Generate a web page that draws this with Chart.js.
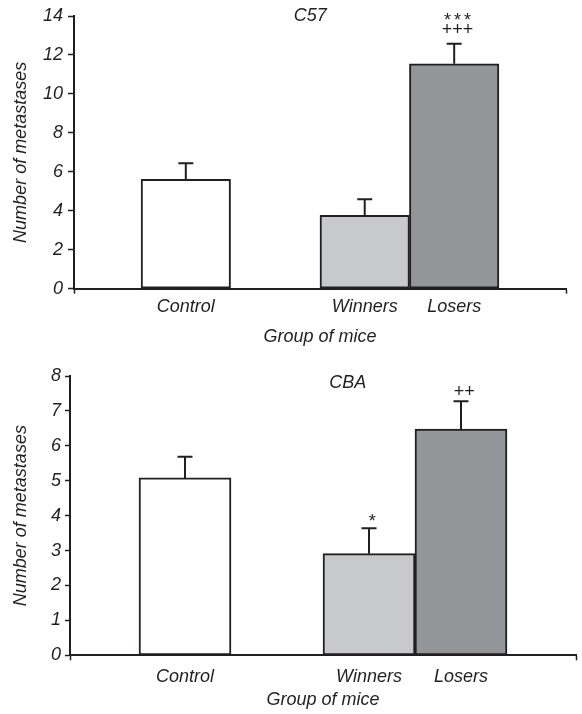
<!DOCTYPE html>
<html><head><meta charset="utf-8">
<script src="https://cdn.jsdelivr.net/npm/chart.js@4"></script>
<style>
html,body{margin:0;padding:0;background:#fff;}
.wrap{width:582px;height:357px;position:relative;}
canvas{display:block;}
</style></head>
<body>
<div class="wrap"><canvas id="c1" width="582" height="357"></canvas></div>
<div class="wrap"><canvas id="c2" width="582" height="357"></canvas></div>
<script>
// ---- data ----
const categories = ['Control', 'Winners', 'Losers'];
const c57Means  = [5.62, 3.77, 11.55];
const c57Errors = [0.82, 0.82, 1.03];
const c57Stars  = ['', '', '***'];
const c57Plus   = ['', '', '+++'];
const c57Ticks  = [0, 2, 4, 6, 8, 10, 12, 14];
const cbaMeans  = [5.08, 2.91, 6.48];
const cbaErrors = [0.61, 0.73, 0.80];
const cbaStars  = ['', '*', ''];
const cbaPlus   = ['', '', '++'];
const cbaTicks  = [0, 1, 2, 3, 4, 5, 6, 7, 8];
const xLabel = 'Group of mice';
const yLabel = 'Number of metastases';

// ---- layout / style ----
const SLOTS = [1.25, 3.25, 4.25];   // category slots on the x scale
const AXIS_END = 5.5;
const INK = '#231f20';
const BAR_COLORS = ['#ffffff', '#c8c9cb', '#939598'];
const FONT = {family: '"Liberation Sans", Arial, sans-serif', size: 18, style: 'italic'};
const FONT_CSS = 'italic 18px "Liberation Sans", Arial, sans-serif';

const errBars = {
  id: 'errbars',
  afterDatasetsDraw(chart, args, opts) {
    const ctx = chart.ctx;
    const ys = chart.scales.y;
    const meta = chart.getDatasetMeta(0);
    const ds = chart.data.datasets[0];
    ctx.save();
    ctx.strokeStyle = INK;
    ctx.fillStyle = INK;
    ctx.lineWidth = 2;
    ctx.font = FONT_CSS;
    ctx.textAlign = 'center';
    ctx.textBaseline = 'alphabetic';
    meta.data.forEach((el, i) => {
      const v = ds.data[i].y;
      const top = ys.getPixelForValue(v + ds.errors[i]);
      const x = el.x;
      ctx.beginPath();
      ctx.moveTo(x, el.y); ctx.lineTo(x, top);
      ctx.moveTo(x - opts.cap / 2, top); ctx.lineTo(x + opts.cap / 2, top);
      ctx.stroke();
      if (ds.plus[i]) ctx.fillText(ds.plus[i], x + 3, top - opts.plusGap);
      if (ds.stars[i]) {
        if ('letterSpacing' in ctx) ctx.letterSpacing = '3px';
        ctx.fillText(ds.stars[i], x + 4, top - opts.starGap);
        if ('letterSpacing' in ctx) ctx.letterSpacing = '0px';
      }
    });
    const ca = chart.chartArea;
    ctx.textBaseline = 'middle';
    ctx.fillText(opts.title, ca.left + opts.titleX * (ca.right - ca.left), ca.top + opts.titleDy);
    ctx.restore();
  }
};

function makeChart(id, means, errors, stars, plus, yTicks, cfg) {
  return new Chart(document.getElementById(id), {
    type: 'bar',
    data: {
      datasets: [{
        data: means.map((m, i) => ({x: SLOTS[i], y: m})),
        errors: errors, stars: stars, plus: plus,
        backgroundColor: BAR_COLORS,
        borderColor: INK,
        borderWidth: 2,
        borderSkipped: false,
        barPercentage: 1,
        categoryPercentage: 1
      }]
    },
    options: {
      responsive: false,
      animation: false,
      layout: {padding: {top: cfg.padTop, right: cfg.padRight, left: 0, bottom: 0}},
      plugins: {
        legend: {display: false},
        tooltip: {enabled: false},
        errbars: {cap: 15, plusGap: cfg.plusGap, starGap: cfg.starGap, title: cfg.title, titleX: cfg.titleX, titleDy: cfg.titleDy}
      },
      scales: {
        x: {
          type: 'linear', min: 0, max: AXIS_END, offset: false,
          afterBuildTicks: s => { s.ticks = [0, ...SLOTS, AXIS_END].map(v => ({value: v})); },
          grid: {display: true, offset: false, drawOnChartArea: false, drawTicks: true, tickLength: 5, tickWidth: 1.5,
            tickColor: c => (c.tick && (c.tick.value === 0 || c.tick.value === AXIS_END)) ? INK : 'rgba(0,0,0,0)'},
          border: {display: true, color: INK, width: 2},
          ticks: {autoSkip: false, maxRotation: 0, padding: cfg.xTickPad, color: INK, font: FONT,
            callback: v => { const i = SLOTS.indexOf(v); return i >= 0 ? categories[i] : ''; }},
          title: {display: true, text: xLabel, color: INK, font: FONT, padding: {top: 0, bottom: cfg.xTitlePad}},
          afterFit: s => { s.height = cfg.xHeight; }
        },
        y: {
          min: 0, max: yTicks[yTicks.length - 1],
          afterBuildTicks: s => { s.ticks = yTicks.map(v => ({value: v})); },
          grid: {display: true, drawOnChartArea: false, drawTicks: true, tickLength: cfg.yTickLen, tickWidth: 1.5, tickColor: INK},
          border: {display: true, color: INK, width: 2},
          ticks: {padding: cfg.yTickPad, color: INK, font: FONT, callback: v => String(v)},
          title: {display: true, text: yLabel, color: INK, font: FONT, padding: {top: 10, bottom: 0}},
          afterFit: s => { s.width = cfg.yWidth; }
        }
      }
    },
    plugins: [errBars]
  });
}

makeChart('c1', c57Means, c57Errors, c57Stars, c57Plus, c57Ticks, {
  padTop: 16, padRight: 16, yWidth: 74, xHeight: 68.3, xTickPad: 2, xTitlePad: 9,
  yTickLen: 6, yTickPad: 5, plusGap: 9, starGap: 17.7, title: 'C57', titleX: 0.48, titleDy: 0
});
makeChart('c2', cbaMeans, cbaErrors, cbaStars, cbaPlus, cbaTicks, {
  padTop: 19, padRight: 2, yWidth: 70, xHeight: 58.7, xTickPad: 6, xTitlePad: 3,
  yTickLen: 5, yTickPad: 4, plusGap: 4.6, starGap: 1.6, title: 'CBA', titleX: 0.549, titleDy: 7
});
</script>
</body></html>
